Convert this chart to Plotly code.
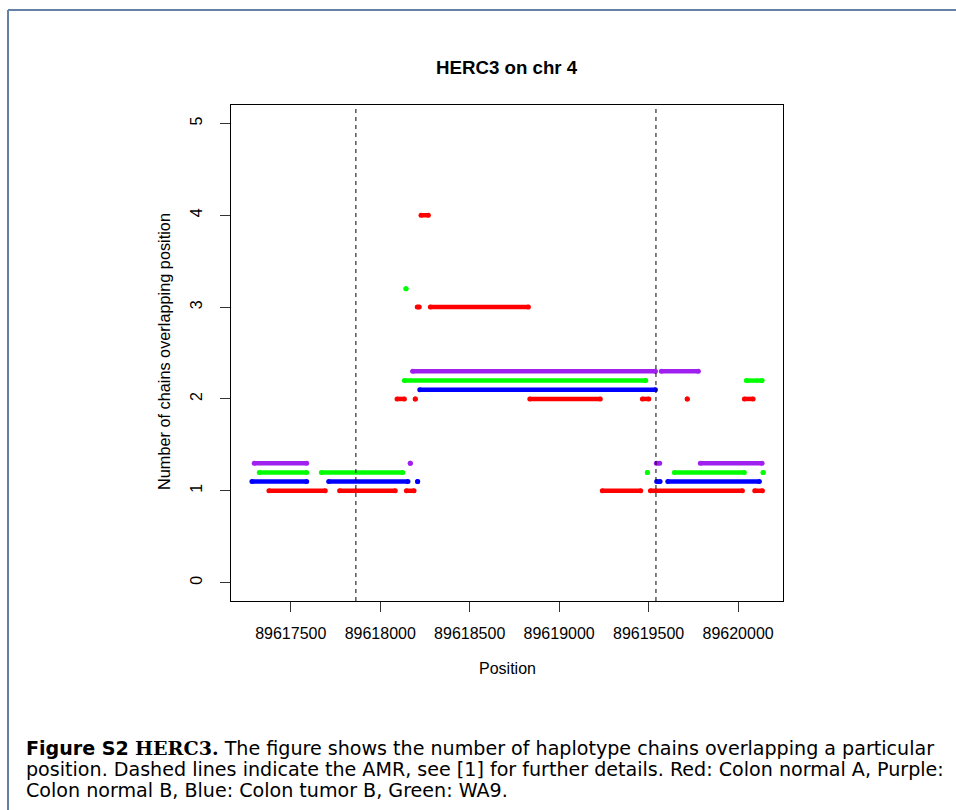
import plotly.graph_objects as go

# ---------------- data ----------------
# segments of positions covered by haplotype chains: start, end, number of chains
red_start = [89617378, 89617773, 89618146, 89618094, 89618196, 89618207, 89618228, 89618280,
             89618836, 89619241, 89619465, 89619510, 89619716, 89620035, 89620093]
red_end   = [89617693, 89618084, 89618189, 89618135, 89618196, 89618218, 89618269, 89618828,
             89619230, 89619456, 89619501, 89620024, 89619716, 89620084, 89620136]
red_count = [1, 1, 1, 2, 2, 3, 4, 3, 2, 1, 2, 1, 2, 2, 1]

blue_start = [89617283, 89617712, 89618209, 89618221, 89619545, 89619607]
blue_end   = [89617589, 89618155, 89618209, 89619538, 89619564, 89620119]
blue_count = [1, 1, 1, 2, 1, 1]

green_start = [89617324, 89617671, 89618135, 89618144, 89619493, 89619644, 89620046, 89620140]
green_end   = [89617589, 89618126, 89619484, 89618144, 89619493, 89620035, 89620134, 89620140]
green_count = [1, 1, 2, 3, 1, 1, 2, 1]

purple_start = [89617296, 89618168, 89618181, 89619543, 89619571, 89619789]
purple_end   = [89617589, 89618168, 89619538, 89619562, 89619778, 89620134]
purple_count = [1, 1, 2, 1, 2, 1]

amr_bounds = [89617864, 89619541]
x_ticks = [89617500, 89618000, 89618500, 89619000, 89619500, 89620000]
y_ticks = [0, 1, 2, 3, 4, 5]

series = [
    ("Colon normal A", red_start, red_end, red_count, 0.0, "#FF0000"),
    ("Colon tumor B", blue_start, blue_end, blue_count, 0.1, "#0000FF"),
    ("WA9", green_start, green_end, green_count, 0.2, "#00FF00"),
    ("Colon normal B", purple_start, purple_end, purple_count, 0.3, "#A020F0"),
]

# ---------------- layout helpers ----------------
W, H = 956, 810
L, R, T, B = 231, 783, 105, 601


def px(x):
    return (x - L) / (R - L)


def py(y):
    return (B - y) / (B - T)


fig = go.Figure()
for name, s, e, c, off, col in series:
    xs, ys = [], []
    for a, b, n in zip(s, e, c):
        xs += [a, b, None]
        ys += [n + off, n + off, None]
    fig.add_trace(go.Scatter(x=xs, y=ys, mode="lines+markers", name=name,
                             line=dict(color=col, width=4.5),
                             marker=dict(color=col, size=5),
                             connectgaps=False, showlegend=False, hoverinfo="skip"))

shapes = []
for xv in amr_bounds:
    shapes.append(dict(type="line", xref="x", yref="paper", x0=xv, x1=xv, y0=0, y1=1,
                       line=dict(color="black", width=1, dash="4px,4px")))
# page frame
frame_col = "#6582a6"
shapes.append(dict(type="line", xref="paper", yref="paper", x0=px(8), x1=px(W + 5),
                   y0=py(10), y1=py(10), line=dict(color=frame_col, width=2)))
shapes.append(dict(type="line", xref="paper", yref="paper", x0=px(8), x1=px(8),
                   y0=py(10), y1=py(H + 5), line=dict(color=frame_col, width=2)))

font_main = "Liberation Sans, Arial, sans-serif"
ann = []
ann.append(dict(text="<b>HERC3 on chr 4</b>", x=0.5, y=py(68), xref="paper", yref="paper",
                showarrow=False, xanchor="center", yanchor="middle",
                font=dict(size=18.7, color="black", family=font_main)))
ann.append(dict(text="Position", x=0.5, y=py(668), xref="paper", yref="paper",
                showarrow=False, xanchor="center", yanchor="middle",
                font=dict(size=16, color="black", family=font_main)))
ann.append(dict(text="Number of chains overlapping position", x=px(164), y=py(352),
                xref="paper", yref="paper", showarrow=False, textangle=-90,
                xanchor="center", yanchor="middle",
                font=dict(size=16.3, color="black", family=font_main)))

cap_font = "DejaVu Sans, sans-serif"
cap_lines = [
    "<b>Figure S2</b> <span style=\"font-family:'DejaVu Serif', serif\"><b>HERC3.</b></span> "
    "The figure shows the number of haplotype chains overlapping a particular",
    "position. Dashed lines indicate the AMR, see [1] for further details. Red: Colon normal A, Purple:",
    "Colon normal B, Blue: Colon tumor B, Green: WA9.",
]
for i, t in enumerate(cap_lines):
    ann.append(dict(text=t, x=px(24), y=py(748 + 21 * i), xref="paper", yref="paper",
                    showarrow=False, xanchor="left", yanchor="middle",
                    font=dict(size=19.1, color="black", family=cap_font)))

fig.update_layout(
    width=W, height=H,
    margin=dict(l=L, r=W - R, t=T, b=H - B, pad=0),
    paper_bgcolor="white", plot_bgcolor="white",
    shapes=shapes, annotations=ann,
    font=dict(family=font_main, color="black"),
    xaxis=dict(range=[89617166, 89620251], tickvals=x_ticks, tickformat="d",
               showgrid=False, zeroline=False, showline=True, mirror=True,
               linecolor="black", linewidth=1, ticks="outside", ticklen=10,
               tickcolor="#333", tickfont=dict(size=16, family=font_main),
               ticklabelstandoff=8),
    yaxis=dict(range=[-0.2, 5.2], tickvals=y_ticks, showgrid=False, zeroline=False,
               showline=True, mirror=True, linecolor="black", linewidth=1,
               ticks="outside", ticklen=10, tickcolor="#333", tickangle=-90,
               tickfont=dict(size=16, family=font_main), ticklabelstandoff=12),
)

fig.write_html("out.html")
